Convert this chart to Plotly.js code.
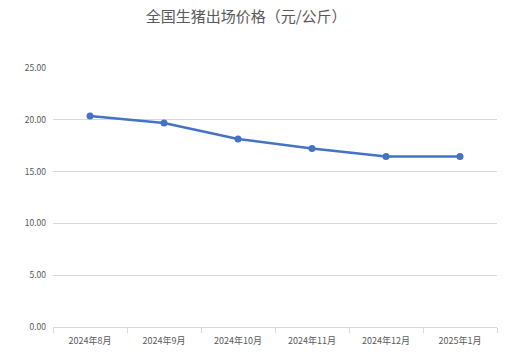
<!DOCTYPE html>
<html><head><meta charset="utf-8">
<script src="https://cdn.plot.ly/plotly-3.0.1.min.js"></script>
<style>html,body{margin:0;padding:0;background:#fff}</style>
</head><body>
<div id="chart" style="width:515px;height:359px"></div>
<script>
const months = ["2024年8月","2024年9月","2024年10月","2024年11月","2024年12月","2025年1月"];
const prices = [20.37, 19.69, 18.15, 17.22, 16.45, 16.45];
const yTicks = [0, 5, 10, 15, 20, 25];
const yTickText = ["0.00","5.00","10.00","15.00","20.00","25.00"];
const titleText = "全国生猪出场价格（元/公斤）";

const font = '"Noto Sans CJK SC", "Liberation Sans", sans-serif';
Plotly.newPlot('chart', [{
  x: months, y: prices, type: 'scatter', mode: 'lines+markers',
  line: {color: '#4472C4', width: 2.5},
  marker: {color: '#4472C4', size: 7},
  hoverinfo: 'skip'
}], {
  width: 515, height: 359,
  margin: {l: 53, r: 18, t: 68, b: 32},
  paper_bgcolor: '#fff', plot_bgcolor: '#fff',
  showlegend: false,
  title: {text: titleText, font: {family: font, size: 15, color: '#595959'},
          x: 0.478, xanchor: 'center', y: 0.953, yanchor: 'middle', yref: 'container'},
  xaxis: {type: 'category', range: [-0.5, months.length - 0.5], tickson: 'boundaries', ticks: 'outside', ticklen: 5,
          tickcolor: '#d9d9d9', showgrid: false, showline: true, linecolor: '#d9d9d9', linewidth: 1,
          tickfont: {family: font, size: 9, color: '#595959'}, ticklabelstandoff: 5, fixedrange: true, zeroline: false},
  yaxis: {range: [0, 25], tickvals: yTicks, ticktext: yTickText, showgrid: true,
          gridcolor: '#d9d9d9', gridwidth: 1, zeroline: false, showline: false, ticks: '',
          tickfont: {family: font, size: 8.5, color: '#595959'}, ticklabelstandoff: 6}
}, {staticPlot: true});
</script>
</body></html>
